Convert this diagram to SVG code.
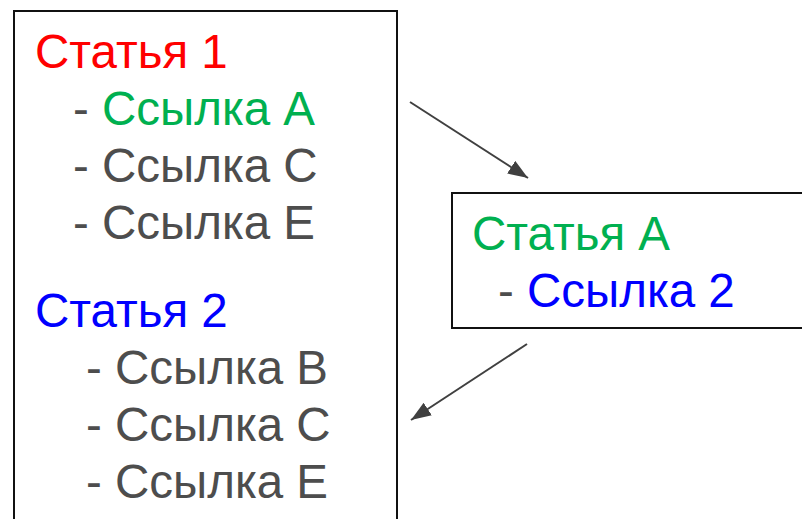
<svg xmlns="http://www.w3.org/2000/svg" width="802" height="519" viewBox="0 0 802 519">
<style>
text{font-family:"Liberation Sans",Arial,sans-serif;font-size:47.5px;fill:#4d4d4d}
.box{fill:#fff;stroke:#111;stroke-width:2}
.red{fill:#ff0000}.green{fill:#00b050}.blue{fill:#0000ff}
.conn{stroke:#404040;stroke-width:2;fill:none;marker-end:url(#ah)}
</style>
<defs>
<marker id="ah" viewBox="0 0 10 10" refX="10" refY="5" markerWidth="20" markerHeight="15" markerUnits="userSpaceOnUse" orient="auto" preserveAspectRatio="none">
<path d="M0,0L10,5L0,10z" fill="#404040"/>
</marker>
</defs>
<rect width="802" height="519" fill="#fff"/>
<g id="node-left">
<rect class="box" x="14" y="11" width="383" height="520"/>
<text x="35" y="68" class="red">Статья 1</text>
<text x="73" y="125">- <tspan class="green">Ссылка A</tspan></text>
<text x="73" y="182">- Ссылка C</text>
<text x="73" y="239">- Ссылка E</text>
<text x="35" y="327" class="blue">Статья 2</text>
<text x="86" y="384">- Ссылка B</text>
<text x="86" y="441">- Ссылка C</text>
<text x="86" y="498">- Ссылка E</text>
</g>
<g id="node-right">
<rect class="box" x="452" y="193" width="360" height="135"/>
<text x="472" y="250" class="green">Статья A</text>
<text x="498" y="307">- <tspan class="blue">Ссылка 2</tspan></text>
</g>
<g id="connectors">
<line class="conn" x1="410" y1="102" x2="528" y2="178"/>
<line class="conn" x1="527" y1="344" x2="411" y2="420"/>
</g>
</svg>
